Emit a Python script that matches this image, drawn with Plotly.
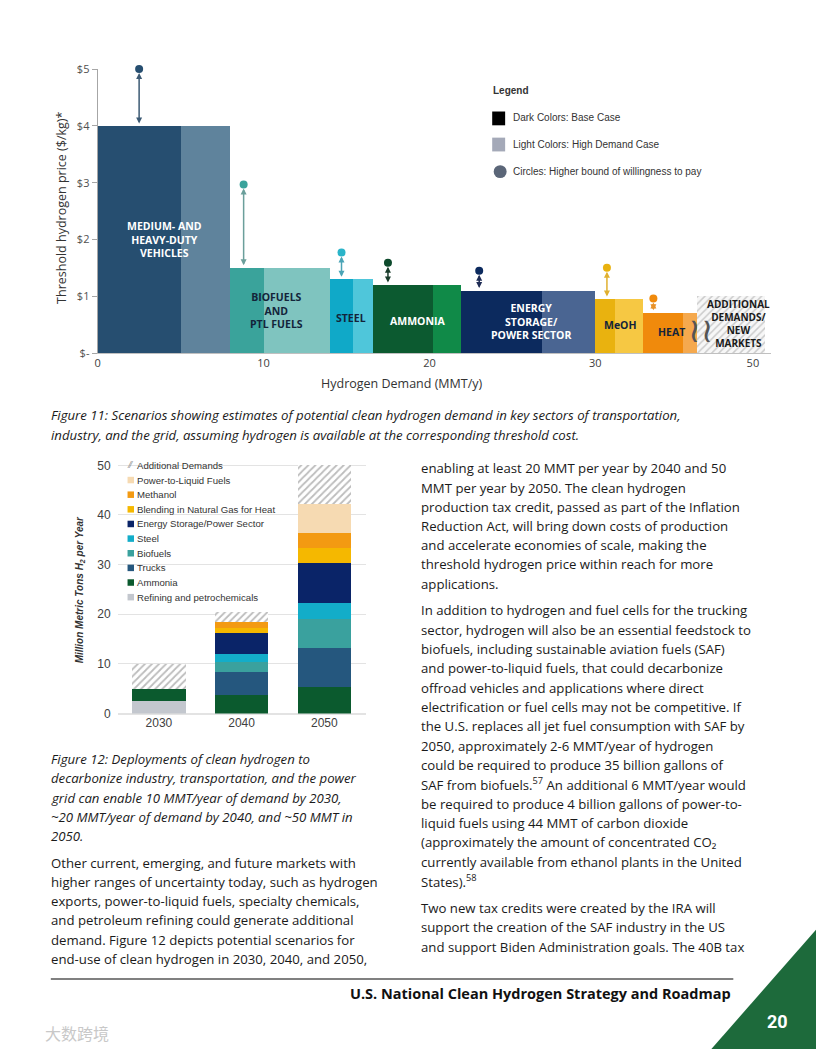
import plotly.graph_objects as go

W, H = 816, 1056


def px(x):
    return x / W


def py(y):
    return 1 - y / H


# ---------------- Figure 11 data ----------------
sectors = ["MHDV", "Biofuels & PTL", "Steel", "Ammonia", "Energy Storage", "MeOH", "Heat"]
sector_labels = ["MEDIUM- AND<br>HEAVY-DUTY<br>VEHICLES", "BIOFUELS<br>AND<br>PTL FUELS", "STEEL",
                 "AMMONIA", "ENERGY<br>STORAGE/<br>POWER SECTOR", "MeOH", "HEAT"]
base_demand = [5.0, 2.0, 1.4, 3.6, 4.9, 1.2, 2.4]      # MMT/y, base case
high_extra = [3.0, 4.0, 1.2, 1.7, 3.2, 1.7, 0.8]       # MMT/y, additional in high demand case
threshold_price = [4.0, 1.5, 1.3, 1.2, 1.1, 0.95, 0.71]  # $/kg
wtp_price = [5.0, 2.97, 1.77, 1.59, 1.45, 1.5, 0.96]     # higher bound willingness to pay
wtp_demand = [2.5, 8.8, 14.7, 17.5, 23.0, 30.7, 33.5]
additional_label = "ADDITIONAL<br>DEMANDS/<br>NEW<br>MARKETS"
additional_width = 4.1
additional_price = 1.0
x_tickvals = [0, 10, 20, 30, 39.5]
x_ticktext = ["0", "10", "20", "30", "50"]
y_tickvals = [0, 1, 2, 3, 4, 5]
y_ticktext = ["$-", "$1", "$2", "$3", "$4", "$5"]

# styles / label positions (layout only)
dark_colors = ["#264e70", "#3aa39b", "#10a9c8", "#0c5a30", "#0c2a5e", "#e9b20f", "#f08a0c"]
light_colors = ["#5f839c", "#7fc4bf", "#4fc6da", "#108a48", "#4a6592", "#f6c843", "#f5a94e"]
dot_colors = ["#264e70", "#3aa39b", "#2ab4c9", "#0d4a2c", "#0c2a5e", "#e9b20f", "#f08a0c"]
arrow_colors = ["#3c5a74", "#6b9f9b", "#4aa4b6", "#1b3d2c", "#1f2c55", "#e0b030", "#e8922a"]
label_colors = ["#ffffff", "#13243a", "#13243a", "#ffffff", "#ffffff", "#13243a", "#13243a"]
label_pos_x = [4.0, 10.8, 15.3, 19.3, 26.1, 31.5, 34.6]
label_pos_y = [2.0, 0.75, 0.62, 0.56, 0.55, 0.49, 0.37]

# ---------------- Figure 12 data ----------------
years = ["2030", "2040", "2050"]
refining = [2.5, 0, 0]
ammonia = [2.5, 3.7, 5.4]
trucks = [0, 4.6, 7.8]
biofuels = [0, 2.1, 5.9]
steel = [0, 1.5, 3.2]
energy_storage = [0, 4.3, 8.0]
blending = [0, 1.0, 3.1]
methanol = [0, 1.3, 3.0]
ptl_fuels = [0, 0, 5.9]
additional = [5.0, 2.0, 7.8]

stack_names = ["Refining and petrochemicals", "Ammonia", "Trucks", "Biofuels", "Steel",
               "Energy Storage/Power Sector", "Blending in Natural Gas for Heat", "Methanol",
               "Power-to-Liquid Fuels", "Additional Demands"]
stack_values = [refining, ammonia, trucks, biofuels, steel, energy_storage, blending,
                methanol, ptl_fuels, additional]
stack_colors = ["#c3c7ce", "#0b5a2e", "#25577e", "#3aa19e", "#13adc9", "#0a2468",
                "#f5b800", "#f39a12", "#f6dab2", None]

fig = go.Figure()

# ---- Figure 11 bars
starts = []
s = 0.0
for b, h in zip(base_demand, high_extra):
    starts.append(s)
    s += b + h
add_start = s

fig.add_trace(go.Bar(
    x=[st + b / 2 for st, b in zip(starts, base_demand)], y=threshold_price, width=base_demand,
    marker=dict(color=dark_colors, line=dict(width=0)), xaxis="x", yaxis="y",
    name="Dark Colors: Base Case", showlegend=False, hoverinfo="skip"))
fig.add_trace(go.Bar(
    x=[st + b + h / 2 for st, b, h in zip(starts, base_demand, high_extra)], y=threshold_price,
    width=high_extra, marker=dict(color=light_colors, line=dict(width=0)), xaxis="x", yaxis="y",
    name="Light Colors: High Demand Case", showlegend=False, hoverinfo="skip"))
fig.add_trace(go.Bar(
    x=[add_start + additional_width / 2], y=[additional_price], width=[additional_width],
    marker=dict(color="#ffffff", line=dict(width=0),
                pattern=dict(shape="/", fgcolor="#a0a0a0", bgcolor="#f7f7f7", size=5, solidity=0.3)),
    xaxis="x", yaxis="y", showlegend=False, hoverinfo="skip"))

fig.add_trace(go.Scatter(
    x=wtp_demand, y=wtp_price, mode="markers", cliponaxis=False,
    marker=dict(size=8, color=dot_colors), xaxis="x", yaxis="y", showlegend=False,
    hoverinfo="skip"))

annotations = []
for i in range(len(sectors)):
    annotations.append(dict(
        x=wtp_demand[i], y=wtp_price[i], ax=wtp_demand[i], ay=threshold_price[i],
        xref="x", yref="y", axref="x", ayref="y", text="", showarrow=True,
        arrowside="end+start", arrowhead=2, arrowsize=0.8, arrowwidth=1.5,
        arrowcolor=arrow_colors[i], standoff=4, startstandoff=1))
    annotations.append(dict(
        x=label_pos_x[i], y=label_pos_y[i], xref="x", yref="y", text="<b>" + sector_labels[i] + "</b>",
        xanchor="center", yanchor="middle",
        showarrow=False, font=dict(family="Open Sans", size=10.5, color=label_colors[i]),
        align="center"))
annotations.append(dict(
    x=add_start + 2.55, y=0.52, xref="x", yref="y", text="<b>" + additional_label + "</b>",
    xanchor="center", yanchor="middle",
    showarrow=False, font=dict(family="Open Sans", size=10, color="#1a1a1a"), align="center"))
annotations.append(dict(
    x=add_start + 0.3, y=0.4, xref="x", yref="y", text="≀≀", showarrow=False,
    xanchor="center", yanchor="middle",
    font=dict(family="DejaVu Sans", size=34, color="#555555")))

# ---- Figure 12 stacked bars
for name, vals, col in zip(stack_names, stack_values, stack_colors):
    if col is None:
        marker = dict(color="#ffffff", line=dict(width=0),
                      pattern=dict(shape="/", fgcolor="#7a7a7a", bgcolor="#ffffff", size=5, solidity=0.35))
    else:
        marker = dict(color=col, line=dict(width=0))
    fig.add_trace(go.Bar(x=years, y=vals, name=name, marker=marker, width=0.645,
                         xaxis="x2", yaxis="y2", showlegend=False, hoverinfo="skip"))

fig.update_layout(
    width=W, height=H, margin=dict(l=0, r=0, t=0, b=0),
    paper_bgcolor="white", plot_bgcolor="white", barmode="stack",
    xaxis=dict(domain=[px(95), px(771)], range=[0, 40.6], showline=True, linecolor="#c0c0c0",
               linewidth=1, ticks="", showgrid=False, zeroline=False, tickvals=x_tickvals,
               ticktext=x_ticktext, tickfont=dict(family="Open Sans", size=11, color="#404040"),
               anchor="y"),
    yaxis=dict(domain=[py(350), py(62)], range=[0, 5], showline=True, linecolor="#a6a6a6",
               ticks="outside", ticklen=5, tickcolor="#a6a6a6", showgrid=False, zeroline=False,
               tickvals=y_tickvals, ticktext=y_ticktext,
               tickfont=dict(family="Open Sans", size=11, color="#505050"), anchor="x"),
    xaxis2=dict(domain=[px(115), px(364)], type="category", showline=False, ticks="",
                showgrid=False, tickfont=dict(family="Liberation Sans", size=12, color="#404040"),
                anchor="y2"),
    yaxis2=dict(domain=[py(715.7), py(456.4)], range=[0, 51.5], tickvals=[0, 10, 20, 30, 40, 50],
                showgrid=True, gridcolor="#e3e3e3", zeroline=True, zerolinecolor="#e3e3e3",
                showline=False, ticks="", ticklabelstandoff=6,
                tickfont=dict(family="Liberation Sans", size=12, color="#404040"), anchor="x2"),
)

shapes = []


def note(x, y, text, font, xanchor="left", yanchor="middle", **kw):
    annotations.append(dict(x=px(x), y=py(y), xref="paper", yref="paper", text=text,
                            showarrow=False, xanchor=xanchor, yanchor=yanchor, font=font, **kw))


# axis titles Figure 11
note(400, 381, "Hydrogen Demand (MMT/y)", dict(family="Open Sans", size=12.5, color="#333333"),
     xanchor="center")
note(58, 203, "Threshold hydrogen price ($/kg)*", dict(family="Open Sans", size=12.5, color="#333333"),
     xanchor="center", textangle=-90)

# Figure 11 legend
leg_font = dict(family="Liberation Sans", size=10, color="#333333")
note(490, 84, "<b>Legend</b>", leg_font)
shapes.append(dict(type="rect", xref="paper", yref="paper", x0=px(491), x1=px(504),
                   y0=py(119), y1=py(105), fillcolor="#000000", line=dict(width=0)))
shapes.append(dict(type="rect", xref="paper", yref="paper", x0=px(491), x1=px(504),
                   y0=py(145.5), y1=py(131.5), fillcolor="#a4a9b8", line=dict(width=0)))
shapes.append(dict(type="circle", xref="paper", yref="paper", x0=px(492.5), x1=px(505.5),
                   y0=py(172.5), y1=py(159.5), fillcolor="#5b6678", line=dict(width=0)))
for txt, yy in [("Dark Colors: Base Case", 111), ("Light Colors: High Demand Case", 138.5),
                ("Circles: Higher bound of willingness to pay", 165.5)]:
    note(510, yy, txt, leg_font)

# Figure 12 legend (reverse stack order)
for i, (name, col) in enumerate(zip(stack_names[::-1], stack_colors[::-1])):
    yy = 464 + i * 14.85
    if col is None:
        note(127.5, yy, "⁄⁄", dict(family="DejaVu Sans", size=8, color="#888888"), xanchor="center")
    else:
        shapes.append(dict(type="rect", xref="paper", yref="paper", x0=px(125), x1=px(131.5),
                           y0=py(yy + 3.3), y1=py(yy - 3.3), fillcolor=col, line=dict(width=0)))
    note(132, yy, name, dict(family="Liberation Sans", size=9.6, color="#333333"))

note(77, 590, "<i><b>Million Metric Tons H<sub>2</sub> per Year</b></i>",
     dict(family="Liberation Sans", size=10, color="#333333"), xanchor="center", textangle=-90)


# ---------------- Page text ----------------
def add_lines(lines, x, y0, dy, font):
    for k, ln in enumerate(lines):
        note(x, y0 + k * dy, ln, font)


body_font = dict(family="Open Sans", size=13.2, color="#1a1a1a")
cap_font = dict(family="Open Sans", size=13.2, color="#1a1a1a")

add_lines(["<i>Figure 11: Scenarios showing estimates of potential clean hydrogen demand in key sectors of transportation,</i>",
           "<i>industry, and the grid, assuming hydrogen is available at the corresponding threshold cost.</i>"],
          46, 413, 20, cap_font)

add_lines(["<i>Figure 12: Deployments of clean hydrogen to</i>",
           "<i>decarbonize industry, transportation, and the power</i>",
           "<i>grid can enable 10 MMT/year of demand by 2030,</i>",
           "<i>~20 MMT/year of demand by 2040, and ~50 MMT in</i>",
           "<i>2050.</i>"], 46, 762, 19.6, cap_font)

add_lines(["Other current, emerging, and future markets with",
           "higher ranges of uncertainty today, such as hydrogen",
           "exports, power-to-liquid fuels, specialty chemicals,",
           "and petroleum refining could generate additional",
           "demand. Figure 12 depicts potential scenarios for",
           "end-use of clean hydrogen in 2030, 2040, and 2050,"], 46, 867, 19.5, body_font)

add_lines(["enabling at least 20 MMT per year by 2040 and 50",
           "MMT per year by 2050. The clean hydrogen",
           "production tax credit, passed as part of the Inflation",
           "Reduction Act, will bring down costs of production",
           "and accelerate economies of scale, making the",
           "threshold hydrogen price within reach for more",
           "applications."], 418, 467, 19.5, body_font)

add_lines(["In addition to hydrogen and fuel cells for the trucking",
           "sector, hydrogen will also be an essential feedstock to",
           "biofuels, including sustainable aviation fuels (SAF)",
           "and power-to-liquid fuels, that could decarbonize",
           "offroad vehicles and applications where direct",
           "electrification or fuel cells may not be competitive. If",
           "the U.S. replaces all jet fuel consumption with SAF by",
           "2050, approximately 2-6 MMT/year of hydrogen",
           "could be required to produce 35 billion gallons of",
           "SAF from biofuels.<sup>57</sup> An additional 6 MMT/year would",
           "be required to produce 4 billion gallons of power-to-",
           "liquid fuels using 44 MMT of carbon dioxide",
           "(approximately the amount of concentrated CO₂",
           "currently available from ethanol plants in the United",
           "States).<sup>58</sup>"], 418, 611, 19.6, body_font)

add_lines(["Two new tax credits were created by the IRA will",
           "support the creation of the SAF industry in the US",
           "and support Biden Administration goals. The 40B tax"], 418, 913, 19.6, body_font)

# footer
shapes.append(dict(type="line", xref="paper", yref="paper", x0=px(48), x1=px(733),
                   y0=py(985), y1=py(985), line=dict(color="#808080", width=2)))
note(733, 1000, "<b>U.S. National Clean Hydrogen Strategy and Roadmap</b>",
     dict(family="Open Sans", size=14.5, color="#111111"), xanchor="right")
shapes.append(dict(type="path", xref="paper", yref="paper",
                   path=f"M {px(816)} {py(935)} L {px(711)} {py(1056)} L {px(816)} {py(1056)} Z",
                   fillcolor="#1d6a3b", line=dict(width=0)))
note(777, 1028, "<b>20</b>", dict(family="Roboto", size=18, color="#ffffff"), xanchor="center")
note(40, 1040, "大数跨境", dict(family="Noto Sans CJK SC", size=16, color="#c8c8c8"))

fig.update_layout(annotations=annotations, shapes=shapes)
page_css = (
    "document.documentElement.style.margin='0px';"
    "document.documentElement.style.overflow='hidden';"
    "document.body.style.margin='0px';"
    "document.body.style.padding='0px';"
    "document.body.style.overflow='hidden';"
    "var gd=document.getElementsByClassName('plotly-graph-div')[0];"
    "gd.style.position='fixed';gd.style.left='0px';gd.style.top='0px';"
)
fig.write_html("out.html", config={"displayModeBar": False}, post_script=page_css)
